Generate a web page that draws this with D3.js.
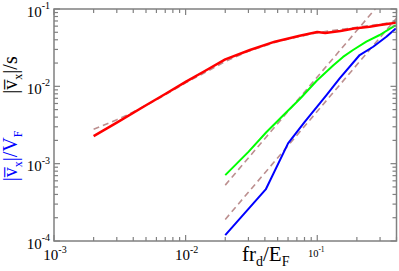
<!DOCTYPE html>
<html>
<head>
<meta charset="utf-8">
<script src="https://cdn.jsdelivr.net/npm/d3@7"></script>
<style>
body { margin: 0; background: #fff; }
svg { display: block; }
text { font-family: "Liberation Serif", "Times New Roman", serif; }
</style>
</head>
<body>
<svg width="399" height="271"></svg>
<script>
// data
var redX = [0.002, 0.003, 0.005, 0.007, 0.01, 0.014, 0.02, 0.0308, 0.0476, 0.0736, 0.1, 0.115, 0.15, 0.19, 0.25, 0.3, 0.34, 0.37, 0.395];
var redY = [2.27e-3, 3.4e-3, 5.7e-3, 7.95e-3, 0.0114, 0.0158, 0.0223, 0.0295, 0.0378, 0.0452, 0.0505, 0.049, 0.052, 0.056, 0.059, 0.062, 0.064, 0.0655, 0.067];

var redFitX = [0.002, 0.003, 0.004, 0.006, 0.01, 0.015, 0.02, 0.03, 0.05, 0.1, 0.2, 0.4];
var redFitY = [2.78e-3, 3.7e-3, 4.65e-3, 6.7e-3, 0.0111, 0.0160, 0.0210, 0.0285, 0.038, 0.0495, 0.058, 0.068];

var greenX = [0.02, 0.03, 0.041, 0.055, 0.074, 0.099, 0.132, 0.157, 0.187, 0.236, 0.298, 0.395];
var greenY = [7.1e-4, 1.42e-3, 2.55e-3, 4.2e-3, 6.9e-3, 0.0118, 0.0186, 0.0240, 0.0295, 0.0378, 0.0461, 0.062];

var blueX = [0.02, 0.0406, 0.06, 0.0803, 0.1045, 0.1175, 0.148, 0.21, 0.266, 0.335, 0.395];
var blueY = [1.19e-4, 4.64e-4, 1.83e-3, 3.48e-3, 6.03e-3, 7.7e-3, 0.0127, 0.0254, 0.0325, 0.0438, 0.056];

var fitX = [0.02, 0.4];
var upperFitY = [5.28e-4, 0.211];
var lowerFitY = [1.9e-4, 0.076];

var xTickVals = [1e-3, 1e-2, 1e-1];
var xTickExp = ["-3", "-2", "-1"];
var yTickVals = [1e-4, 1e-3, 1e-2, 1e-1];
var yTickExp = ["-4", "-3", "-2", "-1"];

var plotL = 54, plotT = 9, plotR = 396.5, plotB = 241;

var svg = d3.select("svg");

var x = d3.scaleLog().domain([1e-3, 0.4]).range([plotL, plotR]);
var y = d3.scaleLog().domain([1e-4, 1e-1]).range([plotB, plotT]);

svg.append("clipPath").attr("id", "plot")
	.append("rect")
	.attr("x", plotL).attr("y", plotT)
	.attr("width", plotR - plotL).attr("height", plotB - plotT);

var zip = function(xs, ys) {
	return xs.map(function(v, i) { return [v, ys[i]]; });
}

var line = d3.line()
	.x(function(d) { return x(d[0]); })
	.y(function(d) { return y(d[1]); });

var g = svg.append("g").attr("clip-path", "url(#plot)");

var dash = "#bc8f8f";

var series = [
	{pts: zip(redFitX, redFitY), color: dash, w: 1.6, dash: "6,4"},
	{pts: zip(fitX, upperFitY), color: dash, w: 1.6, dash: "6,4"},
	{pts: zip(fitX, lowerFitY), color: dash, w: 1.6, dash: "6,4"},
	{pts: zip(greenX, greenY), color: "#00ff00", w: 2, dash: null},
	{pts: zip(blueX, blueY), color: "#0000ff", w: 2, dash: null},
	{pts: zip(redX, redY), color: "#ff0000", w: 2.5, dash: null}
];

series.forEach(function(s) {
	g.append("path")
		.attr("d", line(s.pts))
		.attr("fill", "none")
		.attr("stroke", s.color)
		.attr("stroke-width", s.w)
		.attr("stroke-dasharray", s.dash)
		.attr("stroke-linejoin", "round");
});

// ticks (inside, mirrored on all four sides)
var axisColor = "#808080";
var ticks = svg.append("g").attr("stroke", axisColor).attr("stroke-width", 1.2);

var xMinor = [];
[1e-3, 1e-2, 1e-1].forEach(function(d) {
	for (var k = 1; k < 10; k++) {
		var v = d * k;
		if (v <= 0.4) xMinor.push({v: v, major: k == 1});
	}
});
xMinor.forEach(function(t) {
	var len = t.major ? 6 : 4;
	var px = x(t.v);
	ticks.append("line").attr("x1", px).attr("x2", px).attr("y1", plotB).attr("y2", plotB - len);
	ticks.append("line").attr("x1", px).attr("x2", px).attr("y1", plotT).attr("y2", plotT + len);
});

var yMinor = [];
[1e-4, 1e-3, 1e-2].forEach(function(d) {
	for (var k = 1; k < 10; k++) yMinor.push({v: d * k, major: k == 1});
});
yMinor.push({v: 1e-1, major: true});
yMinor.forEach(function(t) {
	var len = t.major ? 6 : 4;
	var py = y(t.v);
	ticks.append("line").attr("y1", py).attr("y2", py).attr("x1", plotL).attr("x2", plotL + len);
	ticks.append("line").attr("y1", py).attr("y2", py).attr("x1", plotR).attr("x2", plotR - len);
});

svg.append("rect")
	.attr("x", plotL).attr("y", plotT)
	.attr("width", plotR - plotL).attr("height", plotB - plotT)
	.attr("fill", "none")
	.attr("stroke", axisColor)
	.attr("stroke-width", 1.5);

// tick labels
yTickVals.forEach(function(v, i) {
	var t = svg.append("text")
		.attr("x", 50).attr("y", y(v) + 7.5)
		.attr("text-anchor", "end")
		.attr("font-size", 15);
	t.append("tspan").text("10");
	t.append("tspan").attr("font-size", 10).attr("dy", -7.5).text(yTickExp[i]);
});

xTickVals.forEach(function(v, i) {
	var small = i == 2;
	var t = svg.append("text")
		.attr("x", x(v) + (small ? -1 : 1)).attr("y", small ? 256.5 : 260)
		.attr("text-anchor", "middle")
		.attr("font-size", small ? 10.5 : 15);
	t.append("tspan").text("10");
	t.append("tspan").attr("font-size", small ? 7.5 : 10).attr("dy", small ? -5 : -7.5).text(xTickExp[i]);
});

// axis titles
var xl = svg.append("text")
	.attr("x", 242).attr("y", 261)
	.attr("font-size", 21)
	.attr("fill", "#000");
xl.append("tspan").text("fr");
xl.append("tspan").attr("font-size", 14).attr("dy", 5).text("d");
xl.append("tspan").attr("dy", -5).text("/E");
xl.append("tspan").attr("font-size", 14).attr("dy", 5).text("F");

var yLabel = function(cy, color, tail, sub) {
	var t = svg.append("text")
		.attr("transform", "translate(17," + cy + ") rotate(-90)")
		.attr("text-anchor", "middle")
		.attr("font-size", 20)
		.attr("fill", color);
	t.append("tspan").text("|v\u0305");
	t.append("tspan").attr("font-size", 12).attr("dy", 5).text("x");
	t.append("tspan").attr("dy", -5).text("|/" + tail);
	if (sub) t.append("tspan").attr("font-size", 12).attr("dy", 5).text(sub);
}
yLabel(75, "#000", "s", null);
yLabel(156, "#0000ff", "V", "F");
</script>
</body>
</html>
